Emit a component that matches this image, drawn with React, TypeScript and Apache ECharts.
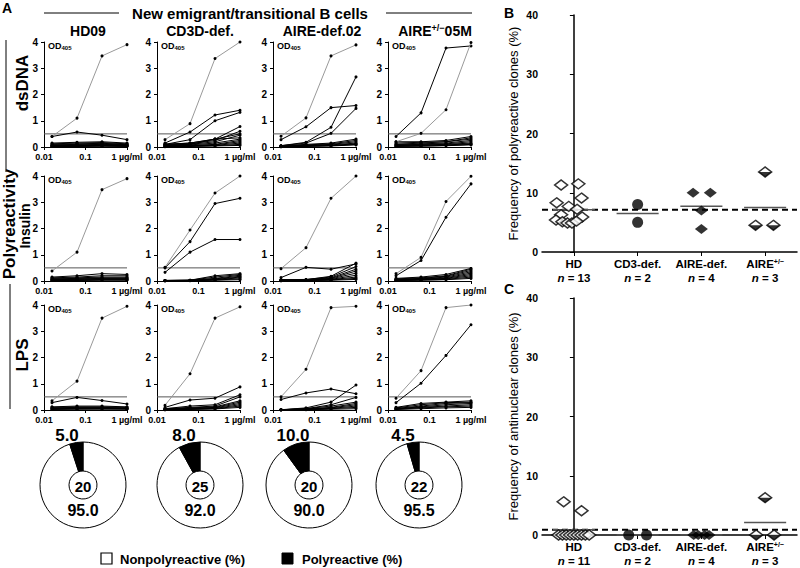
import React, { useEffect, useRef } from 'react';
import * as echarts from 'echarts';

const FONT = '"Liberation Sans", Arial, Helvetica, sans-serif';

// ---------- Panel A data ----------
const DOSES = [0.0156, 0.0625, 0.25, 1];
const xTickLabels = ['0.01', '0.1', '1 µg/ml'];
const columnTitles = ['HD09', 'CD3D-def.', 'AIRE-def.02', 'AIRE'];
const columnTitleSup = ['', '', '', '+/−'];
const columnTitleTail = ['', '', '', '05M'];
const rowTitles = ['dsDNA', 'Insulin', 'LPS'];
const THRESHOLD = 0.5;

const controlDsDNA = [[0.4, 1.1, 3.47, 3.9], [0.28, 0.89, 3.37, 4.0], [0.41, 1.11, 3.47, 3.89], [0.2, 0.52, 1.42, 3.98]];
const controlInsulin = [[0.38, 1.1, 3.48, 3.9], [0.52, 1.94, 3.35, 4.0], [0.47, 1.27, 3.15, 4.0], [0.28, 0.9, 3.03, 3.99]];
const controlLPS = [[0.35, 1.1, 3.5, 3.95], [0.18, 1.38, 3.5, 3.93], [0.5, 1.55, 3.9, 3.95], [0.45, 1.5, 3.9, 4.0]];

const hd09DsDNA = [
  [0.4, 0.57, 0.45, 0.28], [0.15, 0.18, 0.2, 0.15], [0.12, 0.15, 0.17, 0.12], [0.1, 0.12, 0.14, 0.1],
  [0.08, 0.1, 0.12, 0.09], [0.06, 0.08, 0.1, 0.08], [0.05, 0.06, 0.08, 0.06], [0.04, 0.05, 0.06, 0.05],
  [0.03, 0.04, 0.05, 0.04], [0.02, 0.03, 0.04, 0.03], [0.02, 0.02, 0.03, 0.02],
];
const cd3dDsDNA = [
  [0.15, 0.57, 1.22, 1.4], [0.1, 0.28, 1.0, 1.32], [0.1, 0.15, 0.3, 0.78], [0.1, 0.12, 0.25, 0.6],
  [0.08, 0.1, 0.3, 0.5], [0.05, 0.1, 0.2, 0.45], [0.1, 0.15, 0.3, 0.35], [0.05, 0.08, 0.15, 0.3],
  [0.05, 0.06, 0.1, 0.25], [0.03, 0.05, 0.08, 0.2], [0.02, 0.04, 0.06, 0.15], [0.02, 0.03, 0.05, 0.1],
  [0.01, 0.02, 0.04, 0.06],
];
const aireDsDNA = [
  [0.28, 0.77, 1.5, 1.58], [0.05, 0.18, 0.75, 2.67], [0.05, 0.15, 0.52, 1.47], [0.05, 0.1, 0.15, 0.3],
  [0.04, 0.08, 0.12, 0.25], [0.03, 0.06, 0.1, 0.2], [0.02, 0.05, 0.08, 0.15], [0.02, 0.04, 0.06, 0.12],
  [0.01, 0.03, 0.05, 0.1], [0.01, 0.02, 0.04, 0.08],
];
const hetDsDNA = [
  [0.4, 1.3, 3.77, 3.85], [0.2, 0.2, 0.25, 0.4], [0.15, 0.18, 0.2, 0.35], [0.1, 0.15, 0.2, 0.3],
  [0.1, 0.12, 0.15, 0.25], [0.08, 0.1, 0.12, 0.2], [0.05, 0.08, 0.1, 0.15], [0.04, 0.06, 0.08, 0.12],
  [0.03, 0.04, 0.06, 0.1], [0.02, 0.03, 0.05, 0.08],
];
const hd09Insulin = [
  [0.15, 0.2, 0.28, 0.25], [0.12, 0.15, 0.2, 0.2], [0.1, 0.12, 0.15, 0.15], [0.08, 0.1, 0.12, 0.12],
  [0.06, 0.08, 0.1, 0.1], [0.05, 0.06, 0.08, 0.08], [0.03, 0.04, 0.06, 0.06], [0.02, 0.03, 0.04, 0.04],
  [0.02, 0.02, 0.03, 0.03],
];
const cd3dInsulin = [
  [0.5, 1.5, 2.95, 3.15], [0.33, 1.1, 1.58, 1.58], [0.02, 0.03, 0.2, 0.28], [0.02, 0.03, 0.15, 0.25],
  [0.02, 0.03, 0.1, 0.22], [0.02, 0.02, 0.08, 0.18], [0.01, 0.02, 0.06, 0.15], [0.01, 0.02, 0.05, 0.12],
  [0.01, 0.02, 0.04, 0.08], [0.01, 0.01, 0.03, 0.05],
];
const aireInsulin = [
  [0.13, 0.52, 0.45, 0.65], [0.05, 0.05, 0.18, 0.68], [0.05, 0.06, 0.15, 0.55], [0.04, 0.05, 0.12, 0.45],
  [0.03, 0.04, 0.1, 0.38], [0.03, 0.04, 0.08, 0.3], [0.02, 0.03, 0.06, 0.22], [0.02, 0.03, 0.05, 0.15],
  [0.01, 0.02, 0.04, 0.1], [0.01, 0.02, 0.03, 0.06],
];
const hetInsulin = [
  [0.2, 0.78, 2.43, 3.7], [0.1, 0.15, 0.25, 0.48], [0.08, 0.12, 0.2, 0.45], [0.06, 0.1, 0.18, 0.4],
  [0.05, 0.08, 0.15, 0.35], [0.04, 0.07, 0.12, 0.3], [0.03, 0.06, 0.1, 0.25], [0.03, 0.05, 0.08, 0.2],
  [0.02, 0.04, 0.06, 0.15], [0.02, 0.03, 0.05, 0.1],
];
const hd09LPS = [
  [0.28, 0.48, 0.36, 0.23], [0.12, 0.15, 0.15, 0.12], [0.1, 0.12, 0.12, 0.1], [0.08, 0.1, 0.1, 0.08],
  [0.06, 0.08, 0.08, 0.06], [0.05, 0.06, 0.06, 0.05], [0.03, 0.04, 0.05, 0.04], [0.02, 0.03, 0.03, 0.03],
];
const cd3dLPS = [
  [0.1, 0.38, 0.45, 0.88], [0.05, 0.15, 0.2, 0.58], [0.05, 0.1, 0.15, 0.5], [0.04, 0.08, 0.12, 0.35],
  [0.03, 0.06, 0.1, 0.3], [0.02, 0.05, 0.08, 0.25], [0.02, 0.04, 0.06, 0.2], [0.01, 0.03, 0.05, 0.15],
  [0.01, 0.02, 0.04, 0.1],
];
const aireLPS = [
  [0.4, 0.65, 0.8, 0.62], [0.01, 0.08, 0.3, 0.95], [0.01, 0.05, 0.2, 0.48], [0.01, 0.05, 0.15, 0.3],
  [0.01, 0.04, 0.1, 0.25], [0.01, 0.03, 0.08, 0.2], [0.01, 0.02, 0.06, 0.15], [0.01, 0.02, 0.05, 0.1],
  [0.01, 0.01, 0.03, 0.05],
];
const hetLPS = [
  [0.28, 1.02, 2.08, 3.25], [0.1, 0.25, 0.3, 0.35], [0.08, 0.2, 0.28, 0.3], [0.06, 0.15, 0.25, 0.28],
  [0.05, 0.12, 0.2, 0.25], [0.04, 0.1, 0.15, 0.2], [0.03, 0.08, 0.12, 0.15], [0.02, 0.05, 0.08, 0.1],
];

// pies
const polyPct = [5.0, 8.0, 10.0, 4.5];
const nonPolyPct = [95.0, 92.0, 90.0, 95.5];
const cloneCounts = [20, 25, 20, 22];

// ---------- Panels B / C data ----------
const groupNames = ['HD', 'CD3-def.', 'AIRE-def.', 'AIRE'];
const groupSup = ['', '', '', '+/−'];
const polyN = [13, 2, 4, 3];
const anaN = [11, 2, 4, 3];

const polyHD = [11.3, 11.5, 8.3, 9.1, 7.7, 7.2, 6.3, 5.9, 5.4, 5.1, 4.9, 4.9, 5.2];
const polyCD3 = [8.0, 5.0];
const polyAIRE = [10.0, 10.0, 7.0, 3.9];
const polyHet = [13.5, 4.5, 4.5];

const anaHD = [5.6, 4.1, 0, 0, 0, 0, 0, 0, 0, 0, 0];
const anaCD3 = [0, 0];
const anaAIRE = [0, 0, 0, 0];
const anaHet = [6.3, 0, 0];

// horizontal spread of the dots inside each group (layout only)
const polyHDJitter = [-0.2, 0.07, -0.27, 0.12, -0.08, 0.05, -0.2, 0.13, -0.28, -0.18, -0.1, -0.03, 0.04];
const polyCD3Jitter = [0, 0];
const polyAIREJitter = [-0.13, 0.14, 0, 0];
const polyHetJitter = [0, -0.15, 0.13];
const anaHDJitter = [-0.16, 0.12, -0.24, -0.18, -0.12, -0.06, 0, 0.06, 0.12, 0.18, 0.24];
const anaCD3Jitter = [-0.14, 0.14];
const anaAIREJitter = [-0.12, -0.05, 0.05, 0.12];
const anaHetJitter = [0, -0.14, 0.14];

const mean = (a: number[]) => a.reduce((s, v) => s + v, 0) / a.length;

// ---------- layout ----------
const colLefts = [44, 157, 273, 388];
const rowTops = [42, 176, 305];
const PW = 83;
const PH = 105;
const pieCX = [83, 200, 309, 419];
const PIE_CY = 485;

function buildOption() {
  const grid: any[] = [];
  const xAxis: any[] = [];
  const yAxis: any[] = [];
  const series: any[] = [];
  const graphic: any[] = [];

  const panels = [
    [hd09DsDNA, cd3dDsDNA, aireDsDNA, hetDsDNA],
    [hd09Insulin, cd3dInsulin, aireInsulin, hetInsulin],
    [hd09LPS, cd3dLPS, aireLPS, hetLPS],
  ];
  const controls = [controlDsDNA, controlInsulin, controlLPS];

  const txt = (o: any) => ({ type: 'text', silent: true, z: 100, ...o });

  let k = 0;
  for (let r = 0; r < 3; r++) {
    for (let c = 0; c < 4; c++) {
      grid.push({ left: colLefts[c], top: rowTops[r], width: PW, height: PH });
      xAxis.push({
        type: 'log', gridIndex: k, logBase: 10, min: 0.01, max: 1,
        axisLine: { show: true, lineStyle: { color: '#000', width: 1 } },
        axisTick: { show: true, length: 3, lineStyle: { color: '#000' } },
        minorTick: { show: false },
        splitLine: { show: false },
        axisLabel: {
          color: '#000', fontSize: 9, fontWeight: 'bold', fontFamily: FONT, margin: 5,
          showMinLabel: true, showMaxLabel: true,
          formatter: (v: number) => (v > 0.5 ? xTickLabels[2] : v > 0.05 ? xTickLabels[1] : xTickLabels[0]),
        },
      });
      yAxis.push({
        type: 'value', gridIndex: k, min: 0, max: 4, interval: 1,
        axisLine: { show: true, lineStyle: { color: '#000', width: 1 } },
        axisTick: { show: true, length: 3, lineStyle: { color: '#000' } },
        splitLine: { show: false },
        axisLabel: { color: '#000', fontSize: 10, fontWeight: 'bold', fontFamily: FONT, margin: 6 },
      });
      // threshold
      series.push({
        type: 'line', xAxisIndex: k, yAxisIndex: k, silent: true, symbol: 'none', z: 1,
        data: [[0.01, THRESHOLD], [1, THRESHOLD]],
        lineStyle: { color: '#555', width: 1 },
      });
      panels[r][c].forEach((vals) => {
        series.push({
          type: 'line', xAxisIndex: k, yAxisIndex: k, silent: true, z: 3,
          symbol: 'circle', symbolSize: 3,
          data: DOSES.map((d, i) => [d, vals[i]]),
          lineStyle: { color: '#000', width: 1 },
          itemStyle: { color: '#000' },
        });
      });
      series.push({
        type: 'line', xAxisIndex: k, yAxisIndex: k, silent: true, z: 4,
        symbol: 'circle', symbolSize: 3,
        data: DOSES.map((d, i) => [d, controls[r][c][i]]),
        lineStyle: { color: '#999', width: 1 },
        itemStyle: { color: '#000' },
      });
      graphic.push(txt({
        x: colLefts[c] + 4, y: rowTops[r] + 4,
        style: {
          text: '{a|OD}{b|405}', verticalAlign: 'middle',
          rich: {
            a: { fontSize: 9, fontWeight: 'bold', fontFamily: FONT, fill: '#000' },
            b: { fontSize: 6, fontWeight: 'bold', fontFamily: FONT, fill: '#000', padding: [4, 0, 0, 0] },
          },
        },
      }));
      k++;
    }
  }

  // column titles
  const titleX = [88, 200, 322, 435];
  for (let c = 0; c < 4; c++) {
    graphic.push(txt({
      x: titleX[c], y: 31,
      style: {
        text: `{t|${columnTitles[c]}}` + (columnTitleSup[c] ? `{s|${columnTitleSup[c]}}{t|${columnTitleTail[c]}}` : ''),
        align: 'center', verticalAlign: 'middle',
        rich: {
          t: { fontSize: 14, fontWeight: 'bold', fontFamily: FONT, fill: '#000' },
          s: { fontSize: 9, fontWeight: 'bold', fontFamily: FONT, fill: '#000', padding: [0, 0, 7, 0] },
        },
      },
    }));
  }

  // header
  graphic.push(txt({ x: 2, y: 8, style: { text: 'A', fontSize: 14, fontWeight: 'bold', fontFamily: FONT, fill: '#000', verticalAlign: 'middle' } }));
  graphic.push({ type: 'line', silent: true, shape: { x1: 44, y1: 13, x2: 119, y2: 13 }, style: { stroke: '#000', lineWidth: 1 } });
  graphic.push({ type: 'line', silent: true, shape: { x1: 386, y1: 13, x2: 472, y2: 13 }, style: { stroke: '#000', lineWidth: 1 } });
  graphic.push(txt({ x: 250, y: 13, style: { text: 'New emigrant/transitional B cells', fontSize: 15, fontWeight: 'bold', fontFamily: FONT, fill: '#000', align: 'center', verticalAlign: 'middle' } }));

  // row labels
  graphic.push(txt({ x: 22, y: 83, rotation: Math.PI / 2, style: { text: rowTitles[0], fontSize: 17, fontWeight: 'bold', fontFamily: FONT, fill: '#000', align: 'center', verticalAlign: 'middle' } }));
  graphic.push(txt({ x: 9, y: 224, rotation: Math.PI / 2, style: { text: 'Polyreactivity', fontSize: 17, fontWeight: 'bold', fontFamily: FONT, fill: '#000', align: 'center', verticalAlign: 'middle' } }));
  graphic.push(txt({ x: 25, y: 226, rotation: Math.PI / 2, style: { text: rowTitles[1], fontSize: 14, fontWeight: 'bold', fontFamily: FONT, fill: '#000', align: 'center', verticalAlign: 'middle' } }));
  graphic.push(txt({ x: 22, y: 355, rotation: Math.PI / 2, style: { text: rowTitles[2], fontSize: 17, fontWeight: 'bold', fontFamily: FONT, fill: '#000', align: 'center', verticalAlign: 'middle' } }));
  graphic.push({ type: 'line', silent: true, shape: { x1: 6, y1: 40, x2: 6, y2: 172 }, style: { stroke: '#000', lineWidth: 1 } });
  graphic.push({ type: 'line', silent: true, shape: { x1: 10, y1: 284, x2: 10, y2: 409 }, style: { stroke: '#000', lineWidth: 1 } });

  // pies
  for (let c = 0; c < 4; c++) {
    series.push({
      type: 'pie', silent: true, center: [pieCX[c], PIE_CY], radius: [14, 43],
      startAngle: 90, clockwise: true, label: { show: false }, labelLine: { show: false },
      emphasis: { disabled: true },
      itemStyle: { borderColor: '#000', borderWidth: 1 },
      data: [
        { name: 'Nonpolyreactive (%)', value: nonPolyPct[c], itemStyle: { color: '#fff' } },
        { name: 'Polyreactive (%)', value: polyPct[c], itemStyle: { color: '#000' } },
      ],
    });
    graphic.push(txt({ x: pieCX[c], y: PIE_CY + 1, style: { text: String(cloneCounts[c]), fontSize: 15, fontWeight: 'bold', fontFamily: FONT, fill: '#000', align: 'center', verticalAlign: 'middle' } }));
    graphic.push(txt({ x: pieCX[c], y: PIE_CY + 25, style: { text: nonPolyPct[c].toFixed(1), fontSize: 16, fontWeight: 'bold', fontFamily: FONT, fill: '#000', align: 'center', verticalAlign: 'middle' } }));
    graphic.push(txt({ x: pieCX[c] - 16, y: PIE_CY - 50, style: { text: polyPct[c].toFixed(1), fontSize: 17, fontWeight: 'bold', fontFamily: FONT, fill: '#000', align: 'center', verticalAlign: 'middle' } }));
  }
  // legend
  graphic.push({ type: 'rect', silent: true, shape: { x: 101, y: 553, width: 11, height: 11 }, style: { fill: '#fff', stroke: '#000', lineWidth: 1.2 } });
  graphic.push(txt({ x: 120, y: 559, style: { text: 'Nonpolyreactive (%)', fontSize: 13, fontWeight: 'bold', fontFamily: FONT, fill: '#000', verticalAlign: 'middle' } }));
  graphic.push({ type: 'rect', silent: true, shape: { x: 282, y: 553, width: 11, height: 11 }, style: { fill: '#000', stroke: '#000', lineWidth: 1 } });
  graphic.push(txt({ x: 302, y: 559, style: { text: 'Polyreactive (%)', fontSize: 13, fontWeight: 'bold', fontFamily: FONT, fill: '#000', verticalAlign: 'middle' } }));

  // ---------- panels B and C ----------
  const scat = [
    {
      top: 15, name: 'Frequency of polyreactive clones (%)', ns: polyN, letter: 'B', letterY: 13,
      groups: [polyHD, polyCD3, polyAIRE, polyHet], jit: [polyHDJitter, polyCD3Jitter, polyAIREJitter, polyHetJitter],
    },
    {
      top: 298, name: 'Frequency of antinuclear clones (%)', ns: anaN, letter: 'C', letterY: 289,
      groups: [anaHD, anaCD3, anaAIRE, anaHet], jit: [anaHDJitter, anaCD3Jitter, anaAIREJitter, anaHetJitter],
    },
  ];
  const catRich = {
    t: { fontSize: 11.5, fontWeight: 'bold', fontFamily: FONT, color: '#000', lineHeight: 14 },
    s: { fontSize: 7, fontWeight: 'bold', fontFamily: FONT, color: '#000', padding: [0, 0, 6, 0], lineHeight: 14 },
    i: { fontSize: 11.5, fontWeight: 'bold', fontStyle: 'italic', fontFamily: FONT, color: '#000', lineHeight: 14 },
  };
  scat.forEach((p, pi) => {
    const g = 12 + pi;
    grid.push({ left: 542, top: p.top, width: 255, height: 237 });
    xAxis.push({
      type: 'category', gridIndex: g, data: groupNames, boundaryGap: true,
      axisLine: { show: true, lineStyle: { color: '#000', width: 1.5 } },
      axisTick: { show: true, alignWithLabel: true, length: 4, lineStyle: { color: '#000' } },
      axisLabel: {
        margin: 5, interval: 0,
        formatter: (v: string, idx: number) =>
          `{t|${v}}` + (groupSup[idx] ? `{s|${groupSup[idx]}}` : '') + `\n{i|n}{t| = ${p.ns[idx]}}`,
        rich: catRich,
      },
    });
    const valIdx = xAxis.length;
    xAxis.push({ type: 'value', gridIndex: g, min: -0.5, max: 3.5, show: false });
    yAxis.push({
      type: 'value', gridIndex: g, min: 0, max: 40, interval: 10,
      name: p.name, nameLocation: 'middle', nameGap: 22, nameRotate: 90,
      nameTextStyle: { fontSize: 13, fontFamily: FONT, color: '#000' },
      axisLine: { show: true, lineStyle: { color: '#000', width: 1.5 } },
      axisTick: { show: true, length: 4, lineStyle: { color: '#000' } },
      splitLine: { show: false },
      axisLabel: { color: '#000', fontSize: 10.5, fontWeight: 'bold', fontFamily: FONT, margin: 4 },
    });
    const yIdx = g;
    const hdMean = mean(p.groups[0]);
    series.push({
      type: 'line', xAxisIndex: valIdx, yAxisIndex: yIdx, silent: true, symbol: 'none', z: 2,
      data: [[-0.5, hdMean], [3.5, hdMean]],
      lineStyle: { color: '#000', width: 2, type: [6, 4] },
    });
    p.groups.forEach((vals, gi) => {
      const m = mean(vals);
      series.push({
        type: 'line', xAxisIndex: valIdx, yAxisIndex: yIdx, silent: true, symbol: 'none', z: 2,
        data: [[gi - 0.33, m], [gi + 0.33, m]],
        lineStyle: { color: '#555', width: 1.5 },
      });
      const pts = vals.map((v, i) => [gi + p.jit[gi][i], v]);
      const base = { type: 'scatter', xAxisIndex: valIdx, yAxisIndex: yIdx, silent: true, clip: false, z: 5, data: pts };
      if (gi === 0) {
        series.push({ ...base, symbol: 'diamond', symbolSize: [13, 10], itemStyle: { color: '#fff', borderColor: '#000', borderWidth: 1.5 } });
      } else if (gi === 1) {
        series.push({ ...base, symbol: 'circle', symbolSize: 11, itemStyle: { color: '#000' } });
      } else if (gi === 2) {
        series.push({ ...base, symbol: 'diamond', symbolSize: [13, 10], itemStyle: { color: '#000' } });
      } else {
        series.push({ ...base, symbol: 'diamond', symbolSize: [13, 10], itemStyle: { color: '#fff', borderColor: '#000', borderWidth: 1.5 } });
        series.push({ ...base, z: 6, symbol: 'path://M0,0L2,0L1,1Z', symbolSize: [13, 5], symbolOffset: [0, 2.5], itemStyle: { color: '#000' } });
      }
    });
    graphic.push(txt({ x: 504, y: p.letterY, style: { text: p.letter, fontSize: 14, fontWeight: 'bold', fontFamily: FONT, fill: '#000', verticalAlign: 'middle' } }));
  });

  return {
    animation: false,
    backgroundColor: '#fff',
    textStyle: { fontFamily: FONT },
    grid, xAxis, yAxis, series, graphic,
  };
}

export default function App() {
  const ref = useRef<HTMLDivElement>(null);
  useEffect(() => {
    if (!ref.current) return;
    const chart = echarts.init(ref.current, null, { renderer: 'svg' });
    chart.setOption(buildOption() as any);
    return () => chart.dispose();
  }, []);
  return <div ref={ref} style={{ position: 'absolute', left: 0, top: 0, width: 800, height: 568, background: '#fff' }} />;
}
